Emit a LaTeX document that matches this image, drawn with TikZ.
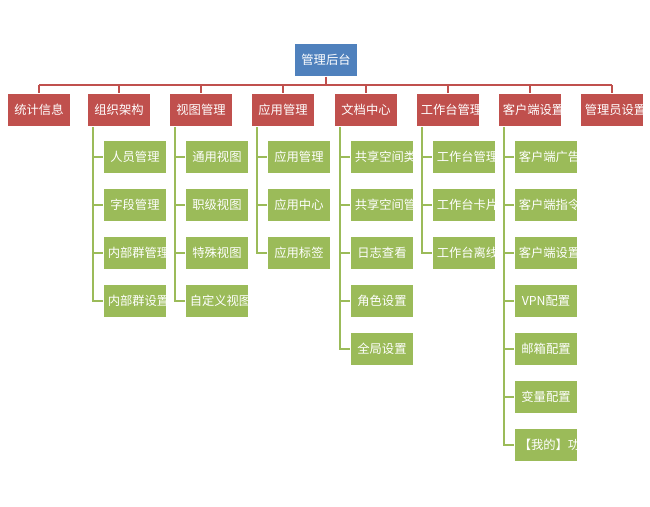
\documentclass[tikz,border=0pt]{standalone}
\usepackage{fontspec}
\setmainfont{Noto Sans CJK SC}
\usetikzlibrary{positioning, calc}
\definecolor{rootblue}{HTML}{4F81BD}
\definecolor{catred}{HTML}{C0504D}
\definecolor{leafgreen}{HTML}{9BBB59}
\tikzset{
  box/.style={draw=white, line width=0.6pt, text=white, align=center, inner sep=0pt,
    minimum width=36pt, minimum height=18.5pt, text width=31pt,
    font=\fontsize{7pt}{8pt}\selectfont},
  root/.style={box, fill=rootblue},
  cat/.style={box, fill=catred},
  leaf/.style={box, fill=leafgreen},
}
\begin{document}
\begin{tikzpicture}[x=0.02cm, y=-0.02cm]
	\useasboundingbox (0,0) rectangle (650,507);
	\node[root] (top) at (326,60) {管理后台};
	\coordinate (bar) at (326,85);
	\draw[catred, line width=1.2pt] (top) -- (bar);
	\draw[catred, line width=1.2pt] (39,85) -- (612,85);

	\foreach \x/\name/\txt in {39/c1/统计信息, 119/c2/组织架构, 201/c3/视图管理, 283/c4/应用管理,
		366/c5/文档中心, 448/c6/工作台管理, 530/c7/客户端设置, 612/c8/管理员设置} {
		\node[cat] (\name) at (\x,110) {\txt};
		\draw[catred, line width=1.2pt] (\x,85) -- (\name.north);
	}

	% leaves: category / row / text
	\foreach \c/\r/\txt in {c2/1/人员管理, c2/2/字段管理, c2/3/内部群管理, c2/4/内部群设置,
		c3/1/通用视图, c3/2/职级视图, c3/3/特殊视图, c3/4/自定义视图,
		c4/1/应用管理, c4/2/应用中心, c4/3/应用标签,
		c5/1/共享空间类型, c5/2/共享空间管理, c5/3/日志查看, c5/4/角色设置, c5/5/全局设置,
		c6/1/工作台管理, c6/2/工作台卡片管理, c6/3/工作台离线包,
		c7/1/客户端广告, c7/2/客户端指令, c7/3/客户端设置, c7/4/VPN配置, c7/5/邮箱配置,
		c7/6/变量配置, c7/7/【我的】功能定义} {
		\node[leaf] (\c-\r) at ($(\c.center)+(16,{48*\r-1})$) {\txt};
	}
	\foreach \c/\n in {c2/4, c3/4, c4/3, c5/5, c6/3, c7/7} {
		\draw[leafgreen, line width=1.2pt] ([xshift=6*0.02cm]\c.south west) |- (\c-\n.west);
		\foreach \r in {1,...,\n}
			\draw[leafgreen, line width=1.2pt] ([xshift=6*0.02cm]\c.south west |- \c-\r.west) -- (\c-\r.west);
	}
\end{tikzpicture}
\end{document}
